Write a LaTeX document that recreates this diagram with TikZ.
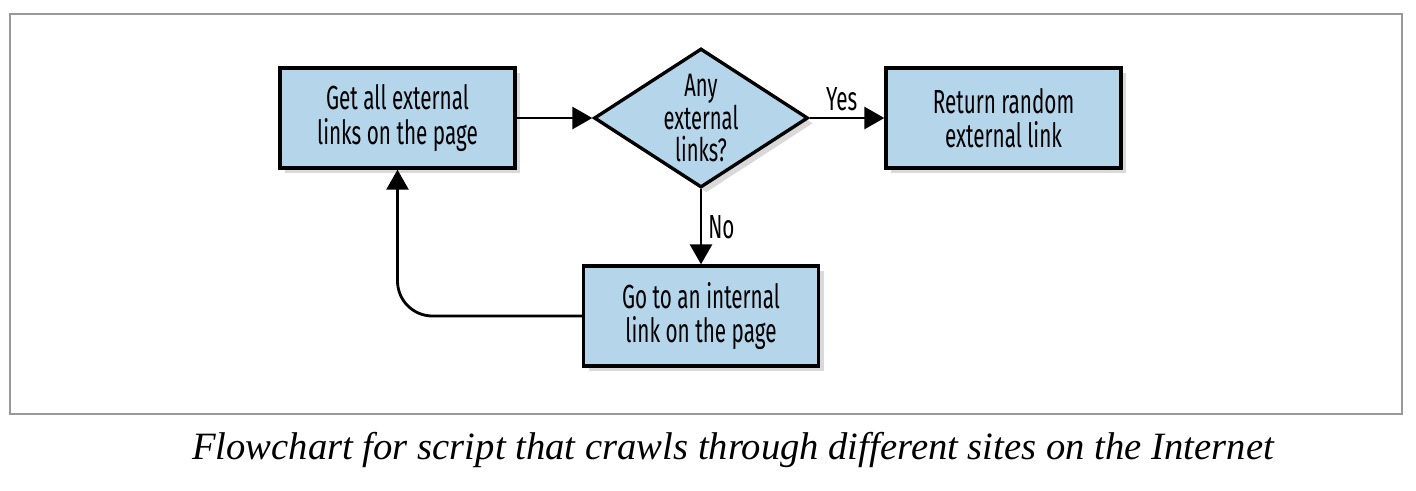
\documentclass[tikz,border=0pt]{standalone}
\usepackage{fontspec}
\setmainfont{Liberation Serif}
\newfontfamily\boxfont[FakeStretch=0.62]{Fira Sans}
\usepackage{tikz}
\usetikzlibrary{shapes,arrows.meta,positioning,calc,shadows}

\definecolor{boxblue}{RGB}{180,213,234}

\tikzset{
    stepbox/.style={draw, line width=1.9pt, fill=boxblue, minimum width=4.7cm, minimum height=2cm,
        align=center, font=\boxfont\fontsize{19}{19.4}\selectfont,
        drop shadow={opacity=0.3, shadow xshift=3pt, shadow yshift=-3pt}},
    decision/.style={draw, diamond, line width=1.9pt, fill=boxblue, minimum width=4.28cm, minimum height=2.78cm,
        inner sep=0pt, drop shadow={opacity=0.3, shadow xshift=3pt, shadow yshift=-3pt}},
    flow/.style={line width=1.6pt, -{Triangle[length=0.4cm, width=0.44cm]}},
    flowlabel/.style={font=\boxfont\fontsize{19}{19.4}\selectfont}
}

\begin{document}
\begin{tikzpicture}
        % Page size and frame
        \useasboundingbox (0, 0) rectangle (28.32, -9.8);
        \draw[gray!80, line width=0.8pt] (0.2, -0.28) rectangle (28.04, -8.28);

        % Boxes
        \node[stepbox] (GET) at (7.95, -2.36) {Get all external\\links on the page};
        \node[decision, label={[align=center, font=\boxfont\fontsize{18.5}{18.5}\selectfont]center:Any\\external\\links?}] (ANY) at (14.02, -2.36) {};
        \node[stepbox] (RETURN) at (20.07, -2.36) {Return random\\external link};
        \node[stepbox] (GO) at (14.02, -6.32) {Go to an internal\\link on the page};

        % Connectors
        \draw[flow] (GET) -- (ANY);
        \draw[flow] (ANY) -- node[flowlabel, above, xshift=-3pt] {Yes} (RETURN);
        \draw[flow] (ANY) -- node[flowlabel, right] {No} (GO);
        \draw[flow, rounded corners=0.7cm] (GO.west) -| (GET.south);

        % Caption
        \node[font=\itshape\fontsize{22}{26}\selectfont] (CAPTION) at (14.66, -9.0) {Flowchart for script that crawls through different sites on the Internet};
\end{tikzpicture}
\end{document}
